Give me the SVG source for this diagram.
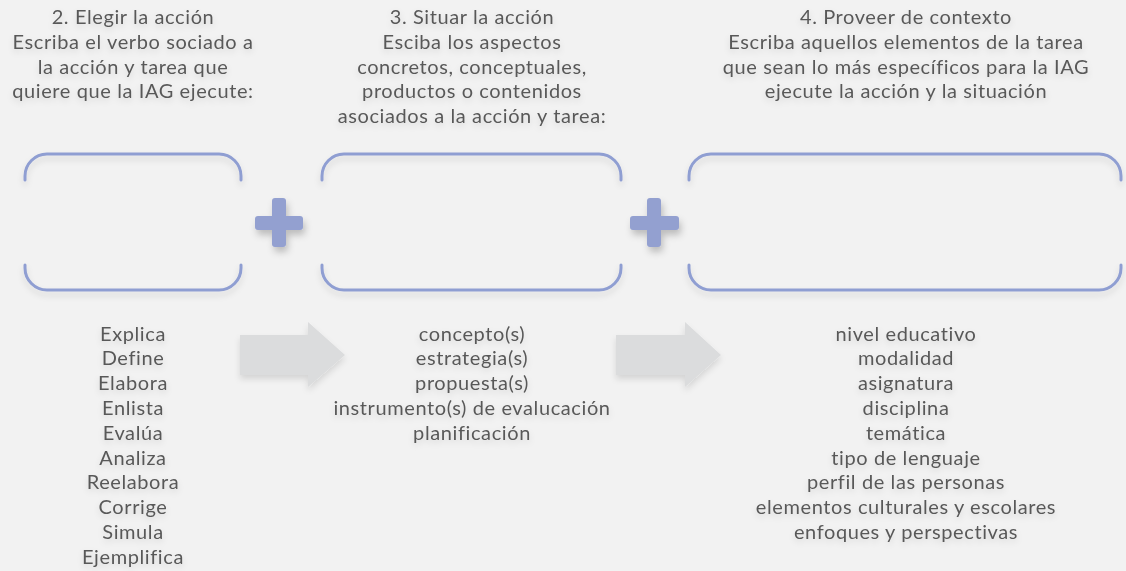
<svg xmlns="http://www.w3.org/2000/svg" width="1126" height="571" viewBox="0 0 1126 571">
  <defs>
    <filter id="sh" x="-20%" y="-20%" width="140%" height="160%">
      <feDropShadow dx="0" dy="4" stdDeviation="3" flood-color="#000" flood-opacity="0.12"/>
    </filter>
    <filter id="shp" x="-40%" y="-40%" width="180%" height="180%">
      <feDropShadow dx="2" dy="5" stdDeviation="3.5" flood-color="#000" flood-opacity="0.22"/>
    </filter>
    <filter id="sht" x="-10%" y="-30%" width="120%" height="160%">
      <feDropShadow dx="0" dy="3" stdDeviation="3" flood-color="#000" flood-opacity="0.12"/>
    </filter>
    <style>
      .bk { fill: none; stroke: #8f9ed2; stroke-width: 3; stroke-linecap: round; }
      .plus { fill: #93a0d0; }
      .arr { fill: #dbdcdd; }
      text { font-family: Lato, "Liberation Sans", sans-serif; font-size: 20px; letter-spacing: 0.6px; fill: #595959; text-anchor: middle; }
    </style>
  </defs>
  <rect width="1126" height="571" fill="#f2f2f2"/>

  <g id="box1" filter="url(#sh)">
    <path class="bk" d="M25,180 V176 A22,22 0 0 1 47,154 H219 A22,22 0 0 1 241,176 V180"/>
    <path class="bk" d="M25,265 V268 A22,22 0 0 0 47,290 H219 A22,22 0 0 0 241,268 V265"/>
  </g>
  <g id="box2" filter="url(#sh)">
    <path class="bk" d="M322,180 V176 A22,22 0 0 1 344,154 H599 A22,22 0 0 1 621,176 V180"/>
    <path class="bk" d="M322,265 V268 A22,22 0 0 0 344,290 H599 A22,22 0 0 0 621,268 V265"/>
  </g>
  <g id="box3" filter="url(#sh)">
    <path class="bk" d="M689,180 V176 A22,22 0 0 1 711,154 H1099 A22,22 0 0 1 1121,176 V180"/>
    <path class="bk" d="M689,265 V268 A22,22 0 0 0 711,290 H1099 A22,22 0 0 0 1121,268 V265"/>
  </g>

  <g id="plus1" filter="url(#shp)">
    <rect class="plus" x="255" y="216" width="48" height="14" rx="3"/>
    <rect class="plus" x="272" y="198" width="14" height="49" rx="3"/>
  </g>
  <g id="plus2" filter="url(#shp)">
    <rect class="plus" x="630" y="216" width="49" height="14" rx="3"/>
    <rect class="plus" x="647" y="198" width="14" height="49" rx="3"/>
  </g>

  <g id="connectors" filter="url(#sh)">
    <polygon class="arr" points="240,335 308,335 308,322 345,355 308,387 308,375 240,375"/>
    <polygon class="arr" points="616,335 685,335 685,322 721,355 685,387 685,375 616,375"/>
  </g>

  <g id="header1" filter="url(#sht)">
    <text x="133" y="24">2. Elegir la acción</text>
    <text x="133" y="48.8">Escriba el verbo sociado a</text>
    <text x="133" y="73.6">la acción y tarea que</text>
    <text x="133" y="98.4">quiere que la IAG ejecute:</text>
  </g>
  <g id="header2" filter="url(#sht)">
    <text x="472" y="24">3. Situar la acción</text>
    <text x="472" y="48.8">Esciba los aspectos</text>
    <text x="472" y="73.6">concretos, conceptuales,</text>
    <text x="472" y="98.4">productos o contenidos</text>
    <text x="472" y="123.2">asociados a la acción y tarea:</text>
  </g>
  <g id="header3" filter="url(#sht)">
    <text x="906" y="24">4. Proveer de contexto</text>
    <text x="906" y="48.8">Escriba aquellos elementos de la tarea</text>
    <text x="906" y="73.6">que sean lo más específicos para la IAG</text>
    <text x="906" y="98.4">ejecute la acción y la situación</text>
  </g>

  <g id="list1" filter="url(#sht)">
    <text x="133" y="340.5">Explica</text>
    <text x="133" y="365.3">Define</text>
    <text x="133" y="390.1">Elabora</text>
    <text x="133" y="414.9">Enlista</text>
    <text x="133" y="439.7">Evalúa</text>
    <text x="133" y="464.5">Analiza</text>
    <text x="133" y="489.3">Reelabora</text>
    <text x="133" y="514.1">Corrige</text>
    <text x="133" y="538.9">Simula</text>
    <text x="133" y="563.7">Ejemplifica</text>
  </g>
  <g id="list2" filter="url(#sht)">
    <text x="472" y="340.5">concepto(s)</text>
    <text x="472" y="365.3">estrategia(s)</text>
    <text x="472" y="390.1">propuesta(s)</text>
    <text x="472" y="414.9">instrumento(s) de evalucación</text>
    <text x="472" y="439.7">planificación</text>
  </g>
  <g id="list3" filter="url(#sht)">
    <text x="906" y="340.5">nivel educativo</text>
    <text x="906" y="365.3">modalidad</text>
    <text x="906" y="390.1">asignatura</text>
    <text x="906" y="414.9">disciplina</text>
    <text x="906" y="439.7">temática</text>
    <text x="906" y="464.5">tipo de lenguaje</text>
    <text x="906" y="489.3">perfil de las personas</text>
    <text x="906" y="514.1">elementos culturales y escolares</text>
    <text x="906" y="538.9">enfoques y perspectivas</text>
  </g>
</svg>
